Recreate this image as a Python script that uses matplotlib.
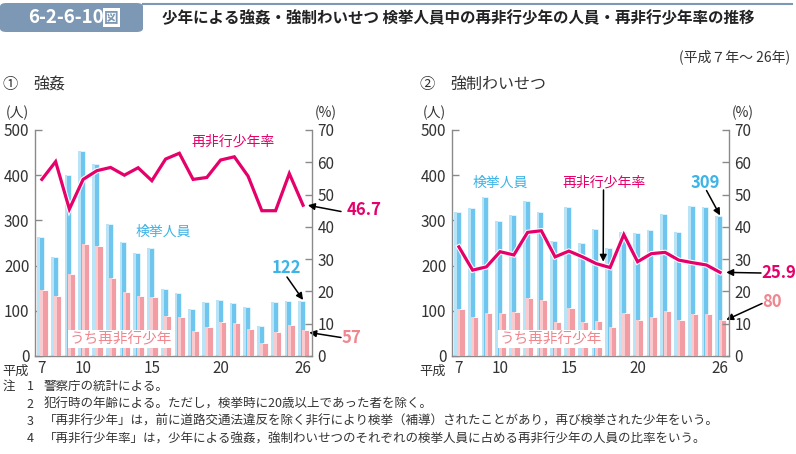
import matplotlib
matplotlib.use("Agg")
import matplotlib.pyplot as plt
import matplotlib.patheffects as pe
from matplotlib.patches import FancyBboxPatch
import numpy as np

plt.rcParams['font.family'] = ['Noto Sans CJK JP', 'DejaVu Sans']

# ---------------- data ----------------
years = list(range(7, 27))  # 平成7年〜26年
xtick_years = [7, 10, 15, 20, 26]

rape_arrested = [263, 220, 400, 453, 425, 293, 252, 228, 240, 148,
                 140, 104, 119, 124, 118, 108, 67, 120, 122, 122]
rape_repeat = [145, 133, 182, 248, 243, 172, 142, 133, 130, 89,
               86, 56, 65, 75, 72, 59, 29, 53, 68, 57]
rape_rate = [54.7, 60.2, 45.5, 54.7, 57.4, 58.4, 56.0, 58.3, 54.3, 61.0,
             62.8, 54.7, 55.3, 60.7, 61.7, 55.7, 45.0, 45.0, 56.5, 46.7]

ind_arrested = [318, 328, 351, 298, 312, 343, 318, 254, 329, 250,
                280, 239, 274, 273, 278, 315, 275, 332, 330, 309]
ind_repeat = [105, 86, 96, 95, 97, 129, 123, 75, 106, 75,
              78, 64, 96, 79, 87, 100, 80, 94, 92, 80]
ind_rate = [33.8, 26.6, 27.6, 32.3, 31.3, 38.3, 38.8, 30.7, 32.5, 30.7,
            28.6, 27.4, 37.6, 29.2, 31.7, 32.1, 29.7, 28.9, 28.2, 25.9]

# ---------------- style ----------------
W, H = 796, 454
BLUE = '#6ec6ef'
BLUE_HI = '#b9e4f8'
BLUE_TXT = '#3db3e6'
PINK = '#f29da3'
PINK_HI = '#f9cbce'
PINK_TXT = '#f0868e'
MAG = '#e5006a'
GRAY = '#8a8a8a'
TXT = '#333333'
HEAD = '#7d98b4'

fig = plt.figure(figsize=(W / 100, H / 100), dpi=100)


def fx(x):
    return x / W


def fy(y):
    return 1 - y / H


def fp(x, y):
    return (x, H - y)


# ---------------- header ----------------
box = FancyBboxPatch((fx(0), fy(32)), fx(143), (32 - 3) / H,
                     boxstyle="round,pad=0,rounding_size=0.008",
                     transform=fig.transFigure, facecolor=HEAD,
                     edgecolor='none')
fig.patches.append(box)
fig.add_artist(plt.Line2D([fx(143), fx(792)], [fy(3.5), fy(3.5)],
                          transform=fig.transFigure, color=HEAD, lw=1.5))
fig.text(fx(28), fy(17.5), '6-2-6-10', color='white', fontsize=13.5,
         fontweight='bold', va='center', ha='left')
fig.text(fx(104), fy(17.5), '図', color=HEAD, fontsize=10.5,
         fontweight='bold', va='center', ha='left',
         bbox=dict(facecolor='white', edgecolor='none', pad=0.8))
fig.text(fx(162), fy(18), '少年による強姦・強制わいせつ 検挙人員中の再非行少年の人員・再非行少年率の推移',
         fontsize=11.2, fontweight='bold', color='#222222', va='center', ha='left')
fig.text(fx(790), fy(57), '(平成７年～ 26年)', fontsize=10, color=TXT,
         va='center', ha='right')


def panel(left_px, num, name, arrested, repeat, rate):
    ax = fig.add_axes([fx(left_px), fy(356), fx(277), 226 / H])
    x = np.array(years, dtype=float)
    bw_b, bw_p = 0.49, 0.53
    xb = x - 0.1
    xp = x + 0.16
    ax.bar(xb, arrested, width=bw_b, color=BLUE, edgecolor='white', linewidth=0.4, zorder=2)
    ax.bar(xb - bw_b * 0.3, arrested, width=bw_b * 0.4, color=BLUE_HI, linewidth=0, zorder=2.1)
    ax.bar(xp, repeat, width=bw_p, color=PINK, edgecolor='white', linewidth=0.6, zorder=3)
    ax.bar(xp - bw_p * 0.3, repeat, width=bw_p * 0.4, color=PINK_HI, linewidth=0, zorder=3.1)
    ax.set_xlim(6.5, 26.65)
    ax.set_ylim(0, 500)
    ax.set_yticks(range(0, 501, 100))
    ax.set_xticks(xtick_years)
    ax.set_xticklabels([str(v) for v in xtick_years])

    ax2 = ax.twinx()
    ax2.set_ylim(0, 70)
    ax2.set_yticks(range(0, 71, 10))
    ax2.plot(x, rate, color=MAG, lw=2.3, zorder=5, solid_joinstyle='miter',
             path_effects=[pe.Stroke(linewidth=3.8, foreground='white'), pe.Normal()])

    for a in (ax, ax2):
        a.spines['top'].set_visible(False)
        for s in ('left', 'right', 'bottom'):
            a.spines[s].set_color(GRAY)
            a.spines[s].set_linewidth(1.0)
        a.tick_params(axis='y', direction='in', length=5, width=1, color=GRAY,
                      labelsize=11, labelcolor=TXT, pad=4)
        a.set_facecolor('none')
    ax.spines['right'].set_visible(False)
    ax2.spines['left'].set_visible(False)
    ax2.spines['bottom'].set_visible(False)
    ax.tick_params(axis='x', length=0, labelsize=11, labelcolor=TXT, pad=3)

    off = left_px - 35
    fig.text(fx(off + 17), fy(113), '(人)', fontsize=10, color=TXT, ha='center', va='center')
    fig.text(fx(off + 326), fy(113), '(%)', fontsize=10, color=TXT, ha='center', va='center')
    fig.text(fx(off + 16), fy(371.5), '平成', fontsize=9.5, color=TXT, ha='center', va='center')
    fig.text(fx(off + 2), fy(85), num, fontsize=11, color=TXT, ha='left', va='center')
    fig.text(fx(off + 33), fy(85), name, fontsize=11.5, color=TXT, ha='left', va='center')
    return ax, ax2


# ---------------- panel 1 ----------------
a1, b1 = panel(35, '①', '強姦', rape_arrested, rape_repeat, rape_rate)
fig.text(fx(233), fy(142), '再非行少年率', fontsize=10, color=MAG, ha='center', va='center')
fig.text(fx(163), fy(232), '検挙人員', fontsize=10, color=BLUE_TXT, ha='center', va='center')
fig.text(fx(121), fy(339), 'うち再非行少年', fontsize=10.5, color=PINK_TXT, ha='center', va='center',
         bbox=dict(facecolor='white', edgecolor='none', pad=1.5))

arrow = dict(arrowstyle='-|>', color='black', lw=1.1, mutation_scale=10,
             shrinkA=0, shrinkB=0)

fig.text(fx(364), fy(210), f'{rape_rate[-1]:.1f}', fontsize=12, fontweight='bold',
         color=MAG, ha='center', va='center')
b1.annotate('', xy=(26.35, rape_rate[-1]), xycoords='data',
            xytext=fp(341, 211.5), textcoords='figure pixels',
            arrowprops=arrow, annotation_clip=False)
fig.text(fx(286), fy(268), f'{rape_arrested[-1]}', fontsize=12, fontweight='bold',
         color=BLUE_TXT, ha='center', va='center')
a1.annotate('', xy=(26.0, rape_arrested[-1] + 2), xycoords='data',
            xytext=fp(287, 277), textcoords='figure pixels',
            arrowprops=arrow, annotation_clip=False)
fig.text(fx(351), fy(338), f'{rape_repeat[-1]}', fontsize=12, fontweight='bold',
         color=PINK_TXT, ha='center', va='center')
a1.annotate('', xy=(26.45, rape_repeat[-1] - 5), xycoords='data',
            xytext=fp(341, 337.5), textcoords='figure pixels',
            arrowprops=arrow, annotation_clip=False)

# ---------------- panel 2 ----------------
a2, b2 = panel(452, '②', '強制わいせつ', ind_arrested, ind_repeat, ind_rate)
fig.text(fx(500), fy(183), '検挙人員', fontsize=10, color=BLUE_TXT, ha='center', va='center')
fig.text(fx(604), fy(183), '再非行少年率', fontsize=10, color=MAG, ha='center', va='center')
b2.annotate('', xy=(17.5, 29.2), xycoords='data',
            xytext=fp(603.5, 190), textcoords='figure pixels',
            arrowprops=arrow, annotation_clip=False)
fig.text(fx(551), fy(339), 'うち再非行少年', fontsize=10.5, color=PINK_TXT, ha='center', va='center',
         bbox=dict(facecolor='white', edgecolor='none', pad=1.5))
fig.text(fx(705), fy(183), f'{ind_arrested[-1]}', fontsize=12, fontweight='bold',
         color=BLUE_TXT, ha='center', va='center')
a2.annotate('', xy=(26.0, ind_arrested[-1] + 2), xycoords='data',
            xytext=fp(706.5, 190.5), textcoords='figure pixels',
            arrowprops=arrow, annotation_clip=False)
fig.text(fx(779), fy(273), f'{ind_rate[-1]:.1f}', fontsize=12, fontweight='bold',
         color=MAG, ha='center', va='center')
b2.annotate('', xy=(26.45, ind_rate[-1]), xycoords='data',
            xytext=fp(761, 273), textcoords='figure pixels',
            arrowprops=arrow, annotation_clip=False)
fig.text(fx(772), fy(302), f'{ind_repeat[-1]}', fontsize=12, fontweight='bold',
         color=PINK_TXT, ha='center', va='center')
a2.annotate('', xy=(26.45, ind_repeat[-1]), xycoords='data',
            xytext=fp(762, 303.5), textcoords='figure pixels',
            arrowprops=arrow, annotation_clip=False)

# ---------------- notes ----------------
notes = [
    '警察庁の統計による。',
    '犯行時の年齢による。ただし，検挙時に20歳以上であった者を除く。',
    '「再非行少年」は，前に道路交通法違反を除く非行により検挙（補導）されたことがあり，再び検挙された少年をいう。',
    '「再非行少年率」は，少年による強姦，強制わいせつのそれぞれの検挙人員に占める再非行少年の人員の比率をいう。',
]
note_y = [386.5, 404, 421.5, 439]
fig.text(fx(3), fy(note_y[0]), '注', fontsize=9, color=TXT, ha='left', va='center')
for i, (t, yy) in enumerate(zip(notes, note_y)):
    fig.text(fx(30), fy(yy), str(i + 1), fontsize=9, color=TXT, ha='center', va='center')
    fig.text(fx(44), fy(yy), t, fontsize=9, color=TXT, ha='left', va='center')

fig.savefig('out.png', dpi=100)
